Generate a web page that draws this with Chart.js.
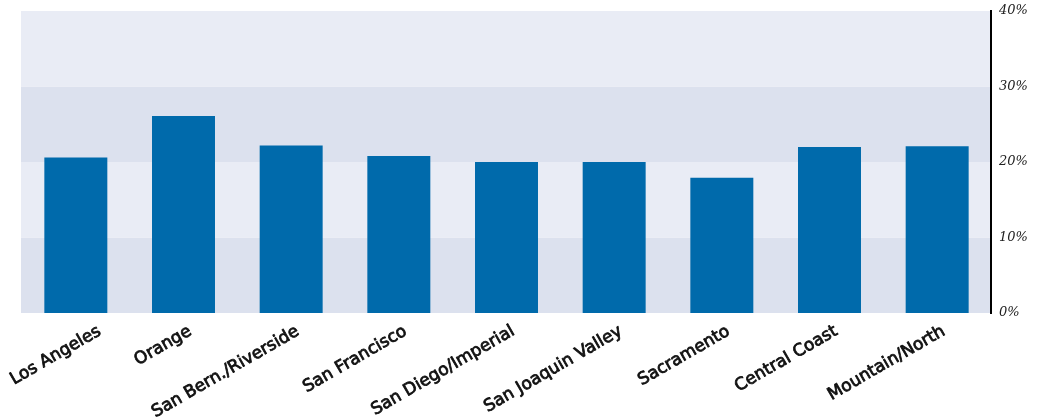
<!DOCTYPE html>
<html>
<head>
<meta charset="utf-8">
<script src="https://cdn.jsdelivr.net/npm/chart.js@4.4.1/dist/chart.umd.min.js"></script>
<style>
  html, body { margin: 0; padding: 0; background: #ffffff; }
  #wrap { width: 1040px; height: 417px; }
</style>
</head>
<body>
<div id="wrap"><canvas id="regionChart"></canvas></div>
<script>
// regions and their shares (%)
const regions = ['Los Angeles', 'Orange', 'San Bern./Riverside', 'San Francisco', 'San Diego/Imperial',
                 'San Joaquin Valley', 'Sacramento', 'Central Coast', 'Mountain/North'];
const shares = [20.6, 26.1, 22.2, 20.8, 20.0, 20.0, 17.9, 22.0, 22.1];
const yTicks = [0, 10, 20, 30, 40];

const LABEL_ANGLE = 30 * Math.PI / 180;

// alternating horizontal bands behind the bars
const bandPlugin = {
    id: 'bands',
    beforeDraw(chart) {
        const { ctx, chartArea, scales } = chart;
        const y = scales.y;
        ctx.save();
        for (let i = 0; i < yTicks.length - 1; i++) {
            const top = y.getPixelForValue(yTicks[i + 1]);
            const bottom = y.getPixelForValue(yTicks[i]);
            ctx.fillStyle = i % 2 === 0 ? '#dce1ee' : '#e9ecf5';
            ctx.fillRect(chartArea.left - 1, top, chartArea.right - chartArea.left + 1, bottom - top);
        }
        ctx.restore();
    }
};

// slanted category labels, right end just past the bar centre,
// first one nudged right so it stays on the canvas
const slantLabels = {
    id: 'slantLabels',
    afterDraw(chart) {
        const { ctx, scales } = chart;
        const x = scales.x;
        ctx.save();
        ctx.font = '17px "DejaVu Sans"';
        ctx.fillStyle = '#111111';
        ctx.strokeStyle = '#111111';
        ctx.lineWidth = 0.8;
        ctx.lineJoin = 'round';
        ctx.textAlign = 'right';
        ctx.textBaseline = 'alphabetic';
        regions.forEach((name, i) => {
            const w = ctx.measureText(name).width;
            let endX = x.getPixelForValue(i) + 9;
            const minEnd = 14 + w * Math.cos(LABEL_ANGLE);
            if (endX < minEnd) endX = minEnd;
            ctx.save();
            ctx.translate(endX, 334);
            ctx.rotate(-LABEL_ANGLE);
            ctx.fillText(name, 0, 0);
            ctx.strokeText(name, 0, 0);
            ctx.restore();
        });
        ctx.restore();
    }
};

const ctx = document.getElementById('regionChart').getContext('2d');
new Chart(ctx, {
    type: 'bar',
    data: {
        labels: regions,
        datasets: [{
            data: shares,
            backgroundColor: '#006aab',
            barPercentage: 0.585,
            categoryPercentage: 1.0
        }]
    },
    options: {
        responsive: true,
        maintainAspectRatio: false,
        animation: false,
        layout: { padding: { left: 22, right: 0, top: 11, bottom: 0 } },
        plugins: {
            legend: { display: false },
            tooltip: { enabled: false }
        },
        scales: {
            x: {
                grid: { display: false, drawTicks: false },
                border: { display: false },
                ticks: { display: false },
                afterFit(axis) {
                    axis.height = 104;
                    axis.paddingLeft = 0;
                    axis.paddingRight = 0;
                }
            },
            y: {
                position: 'right',
                min: 0,
                max: 40,
                afterBuildTicks(axis) {
                    axis.ticks = yTicks.map(v => ({ value: v }));
                },
                afterFit(axis) {
                    axis.width = 49;
                    axis.paddingTop = 0;
                    axis.paddingBottom = 0;
                },
                grid: { display: false, drawTicks: false },
                border: { display: true, color: '#000000', width: 2 },
                ticks: {
                    color: '#222222',
                    padding: 8,
                    font: { family: 'DejaVu Serif', size: 13, style: 'italic' },
                    callback: v => v + '%'
                }
            }
        }
    },
    plugins: [bandPlugin, slantLabels]
});
</script>
</body>
</html>
